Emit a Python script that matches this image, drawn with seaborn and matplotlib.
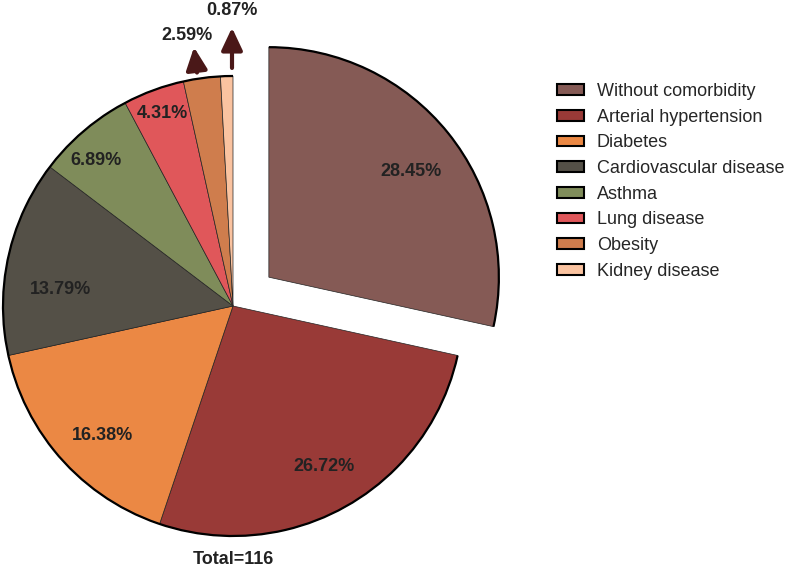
import numpy as np
import seaborn as sns
import matplotlib.pyplot as plt
from matplotlib.patches import Arc, Patch

# Dados
categorias = ['Without comorbidity', 'Arterial hypertension', 'Diabetes',
              'Cardiovascular disease', 'Asthma', 'Lung disease', 'Obesity',
              'Kidney disease']
percentuais = [28.45, 26.72, 16.38, 13.79, 6.89, 4.31, 2.59, 0.87]
total = 116

cores = ['#855A55', '#993A37', '#EB8844', '#545047',
         '#7F8C5A', '#E0575A', '#CF7D4D', '#FAC3A0']

sns.set_theme(style='white')
plt.rcParams['font.family'] = ['Liberation Sans', 'DejaVu Sans']

W, H = 790, 570
cx, cy, R = 233, 306, 230  # centro e raio em pixels
fs = 13

fig = plt.figure(figsize=(W / 100, H / 100), dpi=100)
ax = fig.add_axes([0, 0, 1, 1])

explode = [0.2] + [0] * (len(percentuais) - 1)
wedges, _ = ax.pie(percentuais, colors=cores, startangle=90, counterclock=False,
                   explode=explode, radius=1, center=(0, 0),
                   wedgeprops=dict(edgecolor='#222222', linewidth=0.5))

# limites depois do pie (1 unidade = R pixels)
ax.set_aspect('auto')
ax.set_xlim(-cx / R, (W - cx) / R)
ax.set_ylim(-(H - cy) / R, cy / R)
ax.axis('off')

# Angulos das fatias
fr = np.array(percentuais) / sum(percentuais)
fim = 90 - 360 * np.cumsum(fr)
ini = np.concatenate([[90], fim[:-1]])
meio = (ini + fim) / 2

# Contorno externo grosso
ex = 0.2 * np.cos(np.radians(meio[0]))
ey = 0.2 * np.sin(np.radians(meio[0]))
ax.add_patch(Arc((ex, ey), 2, 2, theta1=fim[0], theta2=90, lw=1.6, color='black'))
ax.add_patch(Arc((0, 0), 2, 2, theta1=90, theta2=360 + fim[0], lw=1.6, color='black'))

# Rotulos internos
raio_lbl = [0.77, 0.80, 0.80, 0.755, 0.87, 0.89]
ajuste = [-2, 0, 3, 7, 3, 0]
for i in range(6):
    a = np.radians(meio[i] + ajuste[i])
    ox, oy = (ex, ey) if i == 0 else (0, 0)
    ax.text(ox + raio_lbl[i] * np.cos(a), oy + raio_lbl[i] * np.sin(a),
            f'{percentuais[i]:.2f}%', ha='center', va='center',
            fontsize=fs, fontweight='bold', color='#222222')

# Rotulos externos com setas
seta_x = [-39 / R, -1 / R]
seta_y0 = [1.015, 1.035]
seta_y1 = [1.125, 1.21]
lbl_pos = [(-46 / R, 271 / R), (-1 / R, 296 / R)]
for j, i in enumerate([6, 7]):
    x0 = seta_x[j] + (0.013 if j == 0 else 0)
    ax.annotate('', xy=(seta_x[j], seta_y1[j]), xytext=(x0, seta_y0[j]),
                arrowprops=dict(arrowstyle='-|>,head_width=0.4,head_length=0.85',
                                lw=3, color='#4A1818', shrinkA=0, shrinkB=0,
                                mutation_scale=16))
    ax.text(lbl_pos[j][0], lbl_pos[j][1], f'{percentuais[i]:.2f}%',
            ha='center', va='center', fontsize=fs, fontweight='bold',
            color='#222222')

ax.text(0, (cy - 560) / R, f'Total={total}', ha='center', va='center',
        fontsize=fs, fontweight='bold', color='#222222')

# Legenda
handles = [Patch(facecolor=c, edgecolor='black', linewidth=1.5) for c in cores]
fig.legend(handles, categorias, loc='upper left',
           bbox_to_anchor=(557 / W, 1 - 83 / H), frameon=False,
           fontsize=fs, handlelength=1.5, handleheight=0.55,
           handletextpad=0.7, labelspacing=0.48, borderpad=0, borderaxespad=0)

plt.savefig('out.png', dpi=100)
